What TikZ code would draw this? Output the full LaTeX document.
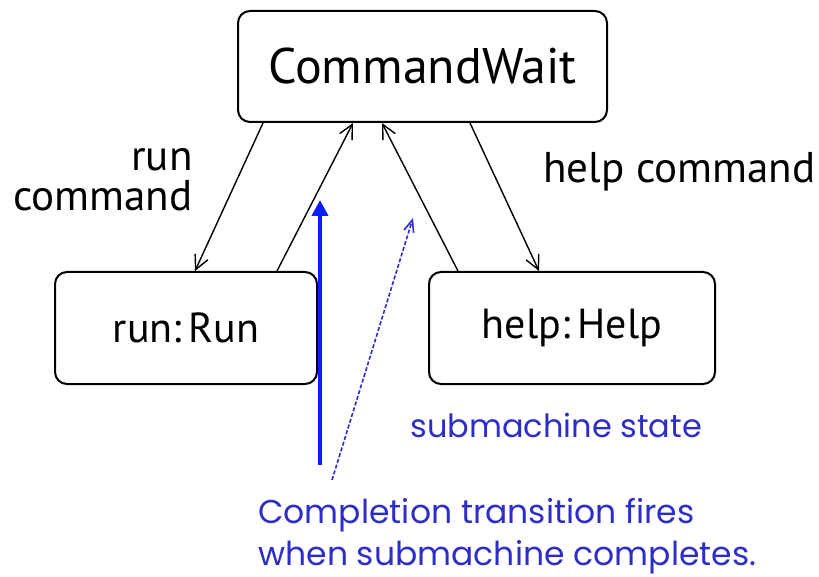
\documentclass[tikz,border=0pt]{standalone}
\usepackage{fontspec}
\setmainfont{PT Sans}
\newfontfamily\notefont{Poppins}
\usetikzlibrary{arrows.meta, calc}
\definecolor{noteblue}{RGB}{45,45,200}
\definecolor{fireblue}{RGB}{10,30,255}

\begin{document}
\begin{tikzpicture}[x=0.5pt, y=-0.5pt,
  state/.style={rectangle, rounded corners=6pt, draw, line width=1pt, inner sep=0pt, minimum height=56pt},
  trans/.style={-{Straight Barb[length=7pt,width=7pt]}, line width=0.7pt},
  label/.style={font=\fontsize{21.5}{20}\selectfont, inner sep=0pt},
  note/.style={text=noteblue, font=\notefont\fontsize{16}{21}\selectfont, align=left, inner sep=0pt}]
\useasboundingbox (0,0) rectangle (819,577);

% states
\node[state, minimum width=184.5pt, minimum height=55.5pt, font=\fontsize{25}{28}\selectfont] (wait) at (422.5,66.5) {CommandWait};
\node[state, minimum width=131pt, font=\fontsize{21}{24}\selectfont] (run)  at (186,328) {run:\,Run};
\node[state, minimum width=143pt, font=\fontsize{21}{24}\selectfont] (help) at (572,328) {help:\,Help};

% transitions
\draw[trans] ($(wait.south)+(-159.5,0)$) -- ($(run.north)+(9,0)$);
\draw[trans] ($(run.north)+(91,0)$) -- ($(wait.south)+(-69.5,0)$);
\draw[trans] ($(help.north)+(-114,0)$) -- ($(wait.south)+(-40.5,0)$);
\draw[trans] ($(wait.south)+(47.5,0)$) -- ($(help.north)+(-33,0)$);

\node[label, align=right, anchor=east] (runlbl) at (193,180) {run\\command};
\node[label, anchor=west] (helplbl) at (543,172) {help command};

% notes
\node[note, anchor=west] (subnote) at (410,425) {submachine state};
\node[note, anchor=north west, font=\notefont\fontsize{16.5}{21}\selectfont] (firenote) at (258,498) {Completion transition fires\\when submachine completes.};

\coordinate (fireS) at (320,465);
\coordinate (fireE) at (320,200);
\draw[fireblue, line width=2pt, -{Triangle[length=8pt,width=8pt]}] (fireS) -- (fireE);

\coordinate (dashS) at (332,480);
\coordinate (dashE) at (413,218);
\draw[noteblue, line width=0.8pt, dash pattern=on 2pt off 1pt, -{Straight Barb[length=6pt,width=5pt]}] (dashS) -- (dashE);
\end{tikzpicture}
\end{document}
